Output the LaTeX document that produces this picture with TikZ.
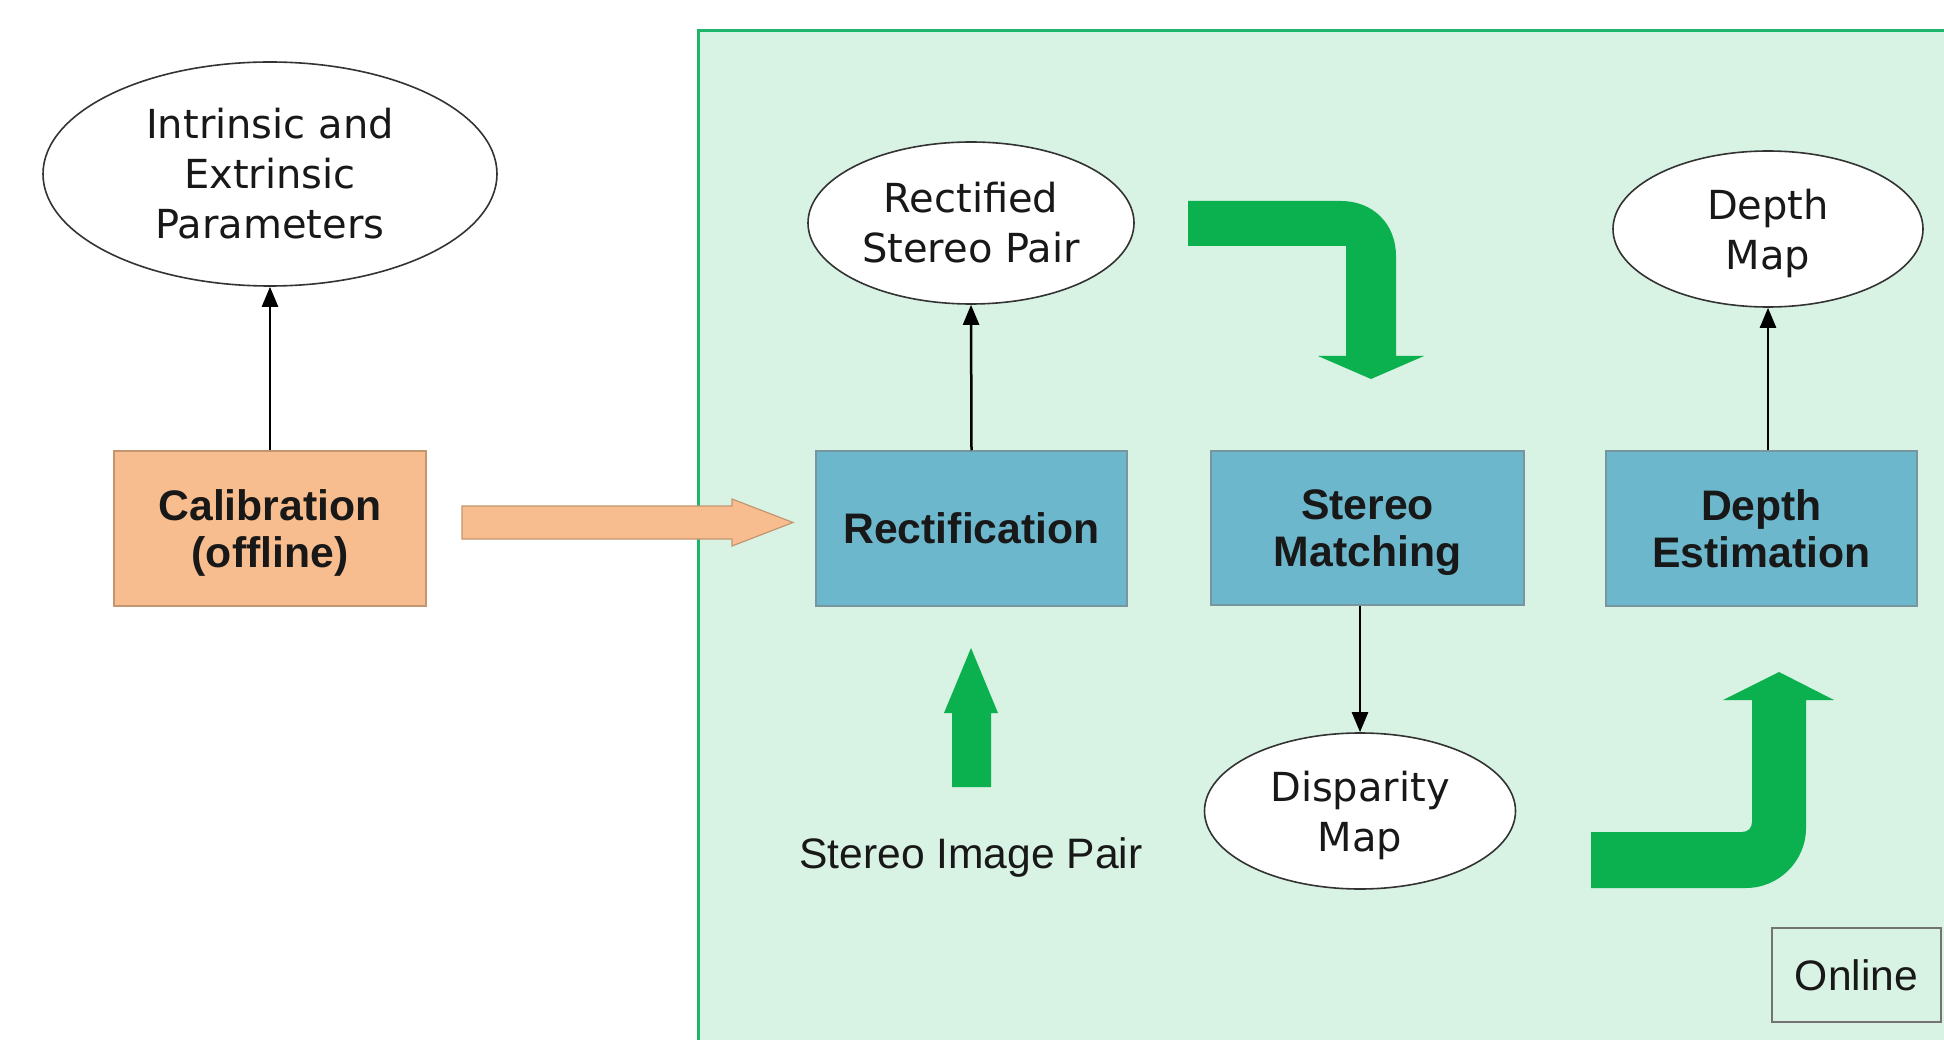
\documentclass[tikz,border=0pt]{standalone}
\usepackage{fontspec}
\setmainfont{Liberation Sans}
\newfontfamily\ellfont{DejaVu Sans}
\usetikzlibrary{shapes.geometric,arrows.meta}
\definecolor{panelfill}{RGB}{216,242,228}
\definecolor{panelline}{RGB}{30,180,108}
\definecolor{garrow}{RGB}{11,176,79}
\definecolor{orfill}{RGB}{248,189,142}
\definecolor{orline}{RGB}{196,150,112}
\definecolor{bluefill}{RGB}{108,183,204}
\definecolor{blueline}{RGB}{120,150,160}
\definecolor{txt}{RGB}{24,24,24}
\tikzset{
  ell/.style={ellipse, draw=black!80, line width=1.6pt, fill=white, inner sep=0pt, align=center,
    text=txt, font=\ellfont\fontsize{40}{50}\selectfont},
  procbox/.style={rectangle, draw=blueline, line width=1.5pt, fill=bluefill, inner sep=0pt,
    minimum width=311pt, minimum height=155pt, align=center, text=txt,
    font=\bfseries\fontsize{42.7}{47}\selectfont},
  calbox/.style={procbox, fill=orfill, draw=orline},
  conn/.style={line width=2.5pt, -{Triangle[width=16pt,length=20pt]}},
  plain/.style={text=txt, font=\fontsize{42.6}{47}\selectfont, inner sep=0pt},
}
\begin{document}
\begin{tikzpicture}[x=1pt,y=-1pt]
\useasboundingbox (0,0) rectangle (1944,1040);
\fill[white] (0,0) rectangle (1944,1040);
% online panel
\draw[panelline, line width=3pt, fill=panelfill] (698,31) rectangle (1960,1060);

% nodes
\node[ell, minimum width=454pt, minimum height=224pt] (intr) at (270,174) {Intrinsic and\\Extrinsic\\Parameters};
\node[calbox, minimum width=312pt] (calib) at (270,528.5) {Calibration\\\smash{(offline)}};
\node[procbox] (rect) at (971.5,528.5) {\raisebox{-3pt}{Rectification}};
\node[procbox, minimum width=313pt, minimum height=154pt] (sm) at (1367.5,528) {Stereo\\\smash{Matching}};
\node[procbox] (dest) at (1761.5,528.5) {Depth\\Estimation};
\node[ell, minimum width=326pt, minimum height=162pt] (rsp) at (971,223) {Rectified\\Stereo Pair};
\node[ell, minimum width=310pt, minimum height=156pt] (dmap) at (1768,229) {Depth\\\smash{Map}};
\node[ell, minimum width=311pt, minimum height=156pt] (disp) at (1360,811) {Disparity\\\smash{Map}};
\node[plain] (sip) at (971,857) {Stereo Image Pair};
\node[draw=black!55, line width=1.5pt, fill=panelfill, minimum width=169pt, minimum height=94pt,
  inner sep=0pt, text=txt, font=\fontsize{42.6}{47}\selectfont] (online) at (1856.5,975) {Online};

% connectors
\draw[conn] (calib.north) -- (intr.south);
\draw[conn] (rect.north) -- (rsp.south);
\draw[conn] (dmap.south |- dest.north) -- (dmap.south);
\draw[conn] (disp.north |- sm.south) -- (disp.north);

% orange block arrow
\draw[orline, line width=1.2pt, fill=orfill]
  (462,506) -- (732,506) -- (732,499) -- (793,522.5) -- (732,546) -- (732,539) -- (462,539) -- cycle;

% green up arrow
\fill[garrow] (952,787) -- (952,713) -- (944,713) -- (971,648) -- (998,713) -- (991,713) -- (991,787) -- cycle;

% top bent arrow
\fill[garrow] (1188,201) -- (1341,201) .. controls (1373,201) and (1396,224) .. (1396,256)
  -- (1396,356) -- (1424,356) -- (1371,379) -- (1318,356) -- (1346,356) -- (1346,246) -- (1188,246) -- cycle;

% bottom bent arrow
\fill[garrow] (1591,832) -- (1742,832) .. controls (1748,832) and (1752,828) .. (1752,822)
  -- (1752,700) -- (1723,700) -- (1779,672) -- (1834,700) -- (1806,700) -- (1806,828)
  .. controls (1806,861) and (1779,888) .. (1746,888) -- (1591,888) -- cycle;
\end{tikzpicture}
\end{document}
